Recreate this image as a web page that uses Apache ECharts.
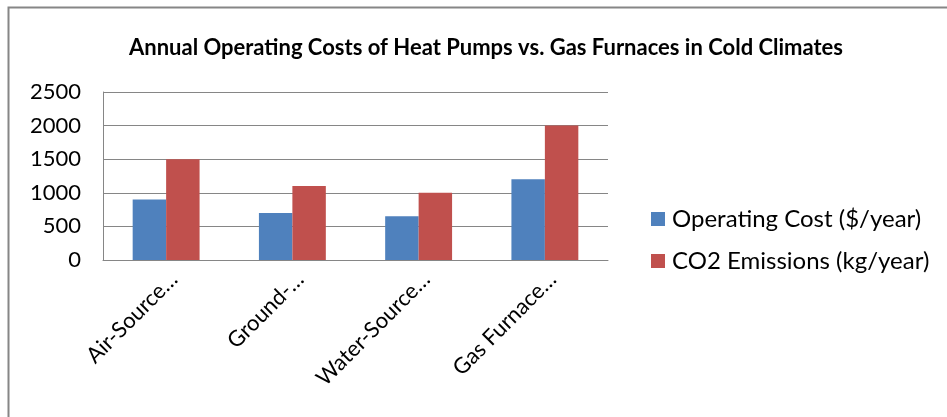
<!DOCTYPE html>
<html>
<head>
<meta charset="utf-8">
<script src="https://cdn.jsdelivr.net/npm/echarts@6/dist/echarts.min.js"></script>
<style>
  html, body { margin: 0; padding: 0; background: #fff; }
  #container { width: 947px; height: 417px; }
</style>
</head>
<body>
<div id="container"></div>
<script>
  // data
  let categories = ['Air-Source…', 'Ground-…', 'Water-Source…', 'Gas Furnace…'];
  let costList = [900, 700, 650, 1200];
  let co2List = [1500, 1100, 1000, 2000];
  let seriesNames = ['Operating Cost ($/year)', 'CO2 Emissions (kg/year)'];

  let font = 'Lato';
  let myChart = echarts.init(document.getElementById('container'));
  let option = {
    animation: false,
    backgroundColor: '#fff',
    color: ['#4f81bd', '#c0504d'],
    title: {
      text: 'Annual Operating Costs of Heat Pumps vs. Gas Furnaces in Cold Climates',
      left: 481,
      top: 32,
      textAlign: 'center',
      textStyle: {fontFamily: font, fontSize: 22, fontWeight: 'bold', color: '#000'}
    },
    legend: {
      orient: 'vertical',
      left: 646,
      top: 202,
      itemWidth: 14,
      itemHeight: 14,
      itemGap: 18,
      icon: 'rect',
      textStyle: {fontFamily: font, fontSize: 24, color: '#000', padding: [0, 0, 0, 2]},
      data: seriesNames
    },
    grid: {left: 103, right: 339, top: 92, bottom: 157, containLabel: false},
    xAxis: {
      type: 'category',
      data: categories,
      axisTick: {show: false},
      axisLine: {lineStyle: {color: '#868686', width: 1}},
      axisLabel: {
        rotate: 45,
        interval: 0,
        margin: 8,
        verticalAlign: 'top',
        fontFamily: font,
        fontSize: 22,
        color: '#000'
      }
    },
    yAxis: {
      type: 'value',
      min: 0,
      max: 2500,
      interval: 500,
      axisLine: {show: true, lineStyle: {color: '#868686', width: 1}},
      axisTick: {show: false},
      splitLine: {lineStyle: {color: '#868686', width: 1}},
      axisLabel: {
        fontFamily: font, fontSize: 22, color: '#000', margin: 22,
        formatter: function (v) { return String(v); }
      }
    },
    series: [
      {name: seriesNames[0], type: 'bar', data: costList, barGap: '0%', barCategoryGap: '47%'},
      {name: seriesNames[1], type: 'bar', data: co2List, barGap: '0%', barCategoryGap: '47%'}
    ],
    graphic: [{
      type: 'rect',
      shape: {x: 8.5, y: 7.5, width: 960, height: 430},
      style: {fill: null, stroke: '#868686', lineWidth: 2},
      silent: true,
      z: 100
    }]
  };
  myChart.setOption(option, true);
</script>
</body>
</html>
